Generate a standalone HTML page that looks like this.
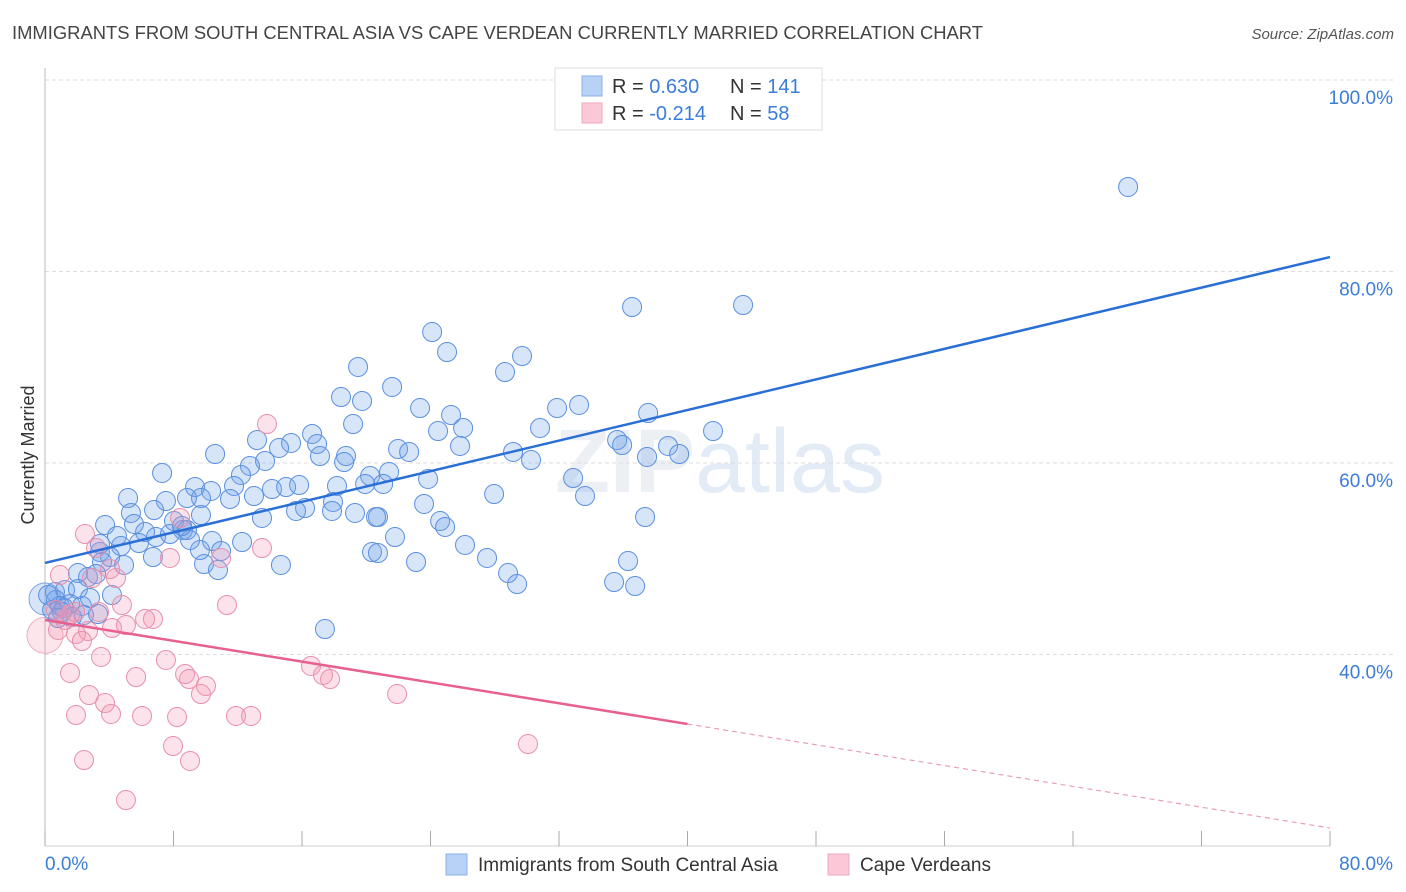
<!DOCTYPE html>
<html><head><meta charset="utf-8"><style>
body{margin:0;background:#fff;font-family:"Liberation Sans",sans-serif}
#c{position:absolute;left:0;top:0}
</style></head><body>
<svg id="c" width="1406" height="892" xmlns="http://www.w3.org/2000/svg">
<text x="12" y="39" font-size="18" fill="#444" textLength="971" lengthAdjust="spacingAndGlyphs">IMMIGRANTS FROM SOUTH CENTRAL ASIA VS CAPE VERDEAN CURRENTLY MARRIED CORRELATION CHART</text>
<text x="1394" y="39" font-size="15" fill="#555" font-style="italic" text-anchor="end">Source: ZipAtlas.com</text>
<text x="720" y="492" font-size="90" fill="#eceff4" text-anchor="middle" font-weight="bold">ZIP<tspan fill="#e3ebf7" font-weight="normal">atlas</tspan></text>
<g id="grid"></g>
<g id="axes"></g>
<g id="pts"></g>
<g id="lines"></g>
<text transform="translate(34,455) rotate(-90)" font-size="18" fill="#333" text-anchor="middle">Currently Married</text>
<g>
<rect x="555" y="68" width="267" height="62" fill="#fff" stroke="#ddd"/>
<rect x="582" y="76" width="20" height="20" fill="#b8d2f5" stroke="#8ab2ea"/>
<rect x="582" y="103" width="20" height="20" fill="#fac8d6" stroke="#f0a8bd"/>
<text x="612" y="93" font-size="20" fill="#333">R = <tspan fill="#3b7dd8"> 0.630</tspan><tspan x="730">N = </tspan><tspan fill="#3b7dd8">141</tspan></text>
<text x="612" y="120" font-size="20" fill="#333">R = <tspan fill="#3b7dd8">-0.214</tspan><tspan x="730">N = </tspan><tspan fill="#3b7dd8"> 58</tspan></text>
</g>
<g>
<rect x="446" y="854" width="21" height="21" fill="#b8d2f5" stroke="#8ab2ea"/>
<text x="478" y="871" font-size="19" fill="#333">Immigrants from South Central Asia</text>
<rect x="828" y="854" width="21" height="21" fill="#fac8d6" stroke="#f0a8bd"/>
<text x="860" y="871" font-size="19" fill="#333">Cape Verdeans</text>
</g>
</svg>
<script>
const blueX=[67.43,43.46,36.55,24.10,25.03,19.49,29.70,28.64,21.61,18.43,19.74,23.35,31.88,33.25,25.28,37.55,16.63,19.18,24.47,26.03,30.82,41.59,35.62,35.93,38.79,25.84,13.20,15.32,16.94,14.57,10.59,17.12,18.74,21.98,22.67,29.14,30.26,37.48,39.48,13.70,12.76,18.62,7.29,12.20,20.24,21.42,23.85,32.88,9.34,10.34,11.77,9.71,11.52,14.13,15.01,15.82,19.93,21.05,18.18,8.84,7.53,5.17,6.79,5.35,16.19,15.63,17.93,17.87,19.30,20.73,23.60,27.96,33.62,13.01,9.71,5.54,3.74,13.51,20.61,24.60,24.91,37.36,8.03,8.59,6.23,6.91,8.84,7.78,4.48,4.73,5.85,12.27,10.40,21.79,26.15,3.42,4.05,10.96,20.36,20.73,6.72,4.92,3.55,9.90,10.77,14.69,23.10,27.52,36.30,2.05,2.68,3.18,28.83,29.39,35.43,36.74,0.62,1.25,2.05,0.68,0.93,1.56,2.30,2.80,3.30,2.43,0.44,17.43,1.18,0.19,0.81,1.68,1.06,4.17,9.65,9.03,8.53,3.42];
const blueY=[88.83,76.50,76.29,73.68,71.59,70.03,71.17,69.50,67.94,66.89,66.48,65.74,65.74,66.06,65.01,65.22,63.03,64.07,63.34,63.66,63.66,63.34,62.40,61.88,61.78,61.78,62.40,62.09,61.98,61.57,60.94,60.73,60.73,61.46,61.15,61.15,60.31,60.63,60.94,60.21,59.69,60.10,58.96,58.75,58.64,59.06,58.33,58.43,57.49,57.08,57.60,56.34,56.24,57.28,57.49,57.70,57.81,57.81,57.60,56.34,56.03,56.34,55.09,54.78,55.30,54.99,55.93,54.99,54.78,54.36,55.72,56.76,56.55,56.55,54.57,53.63,53.52,54.26,54.36,53.94,53.32,54.36,53.94,53.00,52.79,52.27,53.00,52.58,52.38,51.33,51.64,51.75,51.85,52.27,51.44,50.70,50.18,50.81,50.70,50.60,50.18,49.35,49.66,49.45,48.82,49.35,49.66,50.08,49.76,48.51,48.09,48.41,48.51,47.36,47.57,47.15,46.53,46.74,46.84,45.69,45.07,45.27,45.07,45.90,44.23,44.13,44.65,42.66,44.86,46.21,43.81,43.92,44.44,46.21,50.91,51.96,53.42,51.54];
const pinkX=[2.49,3.18,8.41,10.96,13.51,13.82,7.78,0.93,2.93,4.42,4.05,11.33,4.79,1.56,6.23,6.72,4.17,5.04,2.68,0.81,1.93,2.30,3.49,7.53,1.56,5.67,8.72,8.97,10.02,9.71,16.56,17.31,17.75,21.92,2.74,3.74,1.93,4.11,6.04,8.22,11.89,12.83,7.97,30.07,2.43,9.03,5.04,1.25,0.68,1.87,3.36];
const pinkY=[52.58,51.12,54.26,50.08,51.12,64.07,50.08,48.30,47.99,47.99,48.93,45.17,45.17,44.13,43.71,43.71,42.77,43.08,42.45,42.56,42.14,41.41,39.74,39.43,38.07,37.65,37.96,37.44,36.71,35.87,38.80,37.86,37.44,35.87,35.77,34.93,33.68,33.79,33.58,33.47,33.58,33.58,30.44,30.65,28.98,28.88,24.80,43.60,44.65,44.44,44.44];
const bigX=[0,0];const bigY=[45.8,42.0];
const blueTrend=[49.56,81.51];
const pinkTrend=[43.6,21.88];
const yTicks=[40,60,80,100];
const yTickLabels=["40.0%","60.0%","80.0%","100.0%"];
const xEnds=["0.0%","80.0%"];
const NS="http://www.w3.org/2000/svg";
const sx=v=>45+v*1285/80, sy=v=>846-(v-20)*766/80;
function mk(p,t,a){const e=document.createElementNS(NS,t);for(const k in a)e.setAttribute(k,a[k]);p.appendChild(e);return e;}
const grid=document.getElementById('grid'),axes=document.getElementById('axes'),pts=document.getElementById('pts'),lines=document.getElementById('lines');
yTicks.forEach((v,i)=>{
 const l=mk(grid,'line',{x1:45,x2:1394,y1:sy(v),y2:sy(v),stroke:'#ddd','stroke-dasharray':'4,3'});
 
 
 const t=mk(axes,'text',{x:1393,y:sy(v)+24,'font-size':19,fill:'#3b7dd8','text-anchor':'end'});t.textContent=yTickLabels[i];
 
 
});
mk(axes,'line',{x1:45,x2:45,y1:68,y2:846,stroke:'#bbb'});
mk(axes,'line',{x1:45,x2:1330,y1:846,y2:846,stroke:'#ccc'});
for(let i=0;i<=10;i++){const x=sx(i*8);const t=mk(axes,'line',{x1:x,x2:x,y1:831,y2:846,stroke:'#aaa'});
 
 }
const xl0=mk(axes,'text',{x:45,y:870,'font-size':19,fill:'#3b7dd8'});xl0.textContent=xEnds[0];


const xl1=mk(axes,'text',{x:1393,y:870,'font-size':19,fill:'#3b7dd8','text-anchor':'end'});xl1.textContent=xEnds[1];


function dots(X,Y,fill,stroke,r,name){X.forEach((x,i)=>{const c=mk(pts,'circle',{cx:sx(x),cy:sy(Y[i]),r:r,fill:fill,stroke:stroke,'stroke-width':1});
 
 });}
dots(bigX.slice(0,1),bigY.slice(0,1),'rgba(100,150,230,0.25)','#7aa5e6',16,'point-asia');
dots(bigX.slice(1),bigY.slice(1),'rgba(240,140,170,0.22)','#eeaabf',18,'point-cape');
dots(blueX,blueY,'rgba(110,160,235,0.28)','#5b8fe0',9.5,'point-asia');
dots(pinkX,pinkY,'rgba(245,150,180,0.28)','#e890ab',9.5,'point-cape');
const bl=mk(lines,'line',{x1:sx(0),y1:sy(blueTrend[0]),x2:sx(80),y2:sy(blueTrend[1]),stroke:'#2a6fd6','stroke-width':2.5});


const pm=pinkTrend[0]+(pinkTrend[1]-pinkTrend[0])*40/80;
const pl=mk(lines,'line',{x1:sx(0),y1:sy(pinkTrend[0]),x2:sx(40),y2:sy(pm),stroke:'#e8608f','stroke-width':2.5});


const pd=mk(lines,'line',{x1:sx(40),y1:sy(pm),x2:sx(80),y2:sy(pinkTrend[1]),stroke:'#e8a0b8','stroke-width':1.2,'stroke-dasharray':'5,4'});


</script>
</body></html>
